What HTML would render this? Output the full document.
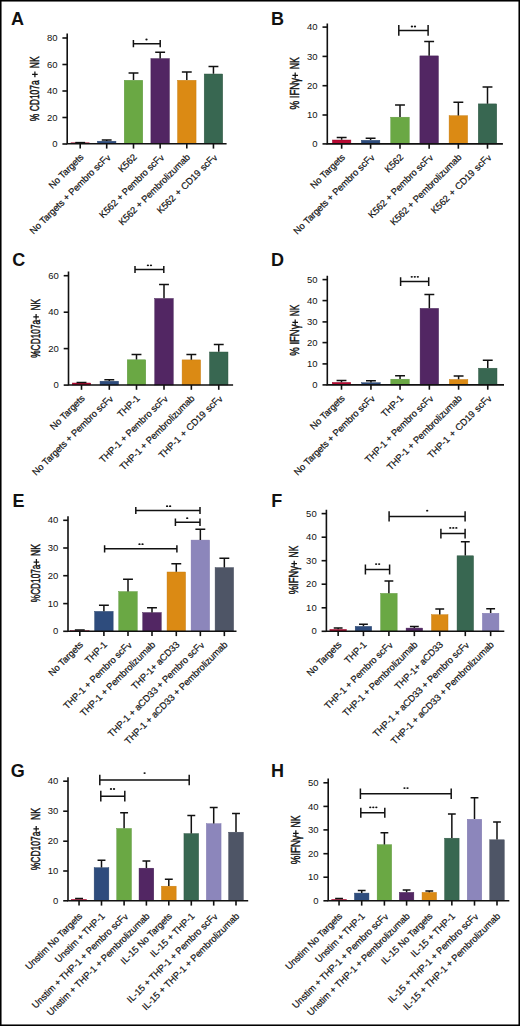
<!DOCTYPE html>
<html><head><meta charset="utf-8"><style>
html,body{margin:0;padding:0;background:#fff;}
svg{display:block;}
text{font-family:"Liberation Sans",sans-serif;fill:#111;}
.let{font-weight:bold;font-size:18px;}
.tk{font-size:9.5px;text-anchor:end;}
.xl{font-size:9.45px;text-anchor:end;letter-spacing:-0.1px;stroke:#111;stroke-width:0.2px;}
.yt{stroke:#111;stroke-width:0.45px;font-size:12.6px;}
.st{font-size:7px;text-anchor:middle;}
.ax{stroke:#111;stroke-width:1.6;fill:none;}
.eb{stroke:#111;stroke-width:1.5;fill:none;}
</style></head><body>
<svg width="520" height="1026" viewBox="0 0 520 1026">
<rect x="0" y="0" width="520" height="1026" fill="#fff"/>
<g><text x="11" y="24.5" class="let">A</text><rect x="70.95" y="142.80" width="18.50" height="1.00" fill="#b80a33" stroke="#950828" stroke-width="0.45"/><rect x="97.45" y="141.20" width="18.50" height="2.60" fill="#2e4c7d" stroke="#25406a" stroke-width="0.45"/><rect x="124.25" y="80.30" width="18.50" height="63.50" fill="#6aa844" stroke="#5a9538" stroke-width="0.45"/><rect x="150.90" y="58.60" width="18.50" height="85.20" fill="#522663" stroke="#421c52" stroke-width="0.45"/><rect x="177.55" y="80.30" width="18.50" height="63.50" fill="#db8a14" stroke="#c67a0c" stroke-width="0.45"/><rect x="204.20" y="74.00" width="18.50" height="69.80" fill="#386751" stroke="#2d5541" stroke-width="0.45"/><path d="M80.20 142.60V142.60M75.26 142.60H85.14" class="eb"/><path d="M106.70 141.00V140.10M101.76 140.10H111.64" class="eb"/><path d="M133.50 80.10V72.90M128.56 72.90H138.44" class="eb"/><path d="M160.15 58.40V52.20M155.21 52.20H165.09" class="eb"/><path d="M186.80 80.10V72.00M181.86 72.00H191.74" class="eb"/><path d="M213.45 73.80V66.50M208.51 66.50H218.39" class="eb"/><path d="M67.2 33.5V143.8H226.6" class="ax"/><path d="M62.40 144H67.2" class="ax"/><text x="57.50" y="147.10" class="tk">0</text><path d="M62.40 117.5H67.2" class="ax"/><text x="57.50" y="120.60" class="tk">20</text><path d="M62.40 91H67.2" class="ax"/><text x="57.50" y="94.10" class="tk">40</text><path d="M62.40 64.5H67.2" class="ax"/><text x="57.50" y="67.60" class="tk">60</text><path d="M62.40 38H67.2" class="ax"/><text x="57.50" y="41.10" class="tk">80</text><path d="M80.20 143.8V148.60" class="ax"/><text transform="translate(84.00 157.80) rotate(-45)" class="xl">No Targets</text><path d="M106.70 143.8V148.60" class="ax"/><text transform="translate(110.50 157.80) rotate(-45)" class="xl">No Targets + Pembro scF<tspan font-size="8.50" dy="1.0">v</tspan></text><path d="M133.50 143.8V148.60" class="ax"/><text transform="translate(137.30 157.80) rotate(-45)" class="xl">K562</text><path d="M160.15 143.8V148.60" class="ax"/><text transform="translate(163.95 157.80) rotate(-45)" class="xl">K562 + Pembro scF<tspan font-size="8.50" dy="1.0">v</tspan></text><path d="M186.80 143.8V148.60" class="ax"/><text transform="translate(190.60 157.80) rotate(-45)" class="xl">K562 + Pembrolizumab</text><path d="M213.45 143.8V148.60" class="ax"/><text transform="translate(217.25 157.80) rotate(-45)" class="xl" word-spacing="0.8">K562 + CD19 scF<tspan font-size="8.50" dy="1.0">v</tspan></text><path d="M133.4 40.05V47.35M133.4 43.7H160.2M160.2 40.05V47.35" class="eb"/><ellipse cx="146.50" cy="39.5" rx="1.15" ry="0.9" fill="#111"/><text transform="translate(38.7 121.20) rotate(-90)" class="yt" textLength="40.90" lengthAdjust="spacingAndGlyphs">% CD107a</text><text transform="translate(38.7 68.20) rotate(-90)" class="yt" textLength="11.80" lengthAdjust="spacingAndGlyphs">NK</text><path d="M32.10 74.45H37.70M34.9 71.55V77.35" stroke="#111" stroke-width="1.25" fill="none"/></g>
<g><text x="271" y="24.5" class="let">B</text><rect x="332.40" y="140.00" width="18.50" height="3.90" fill="#b80a33" stroke="#950828" stroke-width="0.45"/><rect x="361.35" y="140.30" width="18.50" height="3.60" fill="#2e4c7d" stroke="#25406a" stroke-width="0.45"/><rect x="390.75" y="117.20" width="18.50" height="26.70" fill="#6aa844" stroke="#5a9538" stroke-width="0.45"/><rect x="419.90" y="55.90" width="18.50" height="88.00" fill="#522663" stroke="#421c52" stroke-width="0.45"/><rect x="449.10" y="115.70" width="18.50" height="28.20" fill="#db8a14" stroke="#c67a0c" stroke-width="0.45"/><rect x="478.25" y="103.90" width="18.50" height="40.00" fill="#386751" stroke="#2d5541" stroke-width="0.45"/><path d="M341.65 139.80V137.40M336.71 137.40H346.59" class="eb"/><path d="M370.60 140.10V138.30M365.66 138.30H375.54" class="eb"/><path d="M400.00 117.00V105.10M395.06 105.10H404.94" class="eb"/><path d="M429.15 55.70V41.60M424.21 41.60H434.09" class="eb"/><path d="M458.35 115.50V102.30M453.41 102.30H463.29" class="eb"/><path d="M487.50 103.70V87.10M482.56 87.10H492.44" class="eb"/><path d="M327.3 23.4V143.9H502.9" class="ax"/><path d="M322.50 143.9H327.3" class="ax"/><text x="317.60" y="147.00" class="tk">0</text><path d="M322.50 115H327.3" class="ax"/><text x="317.60" y="118.10" class="tk">10</text><path d="M322.50 85.7H327.3" class="ax"/><text x="317.60" y="88.80" class="tk">20</text><path d="M322.50 56.4H327.3" class="ax"/><text x="317.60" y="59.50" class="tk">30</text><path d="M322.50 27.1H327.3" class="ax"/><text x="317.60" y="30.20" class="tk">40</text><path d="M341.65 143.9V148.70" class="ax"/><text transform="translate(345.45 157.90) rotate(-45)" class="xl">No Targets</text><path d="M370.60 143.9V148.70" class="ax"/><text transform="translate(374.40 157.90) rotate(-45)" class="xl">No Targets + Pembro scF<tspan font-size="8.50" dy="1.0">v</tspan></text><path d="M400.00 143.9V148.70" class="ax"/><text transform="translate(403.80 157.90) rotate(-45)" class="xl">K562</text><path d="M429.15 143.9V148.70" class="ax"/><text transform="translate(432.95 157.90) rotate(-45)" class="xl">K562 + Pembro scF<tspan font-size="8.50" dy="1.0">v</tspan></text><path d="M458.35 143.9V148.70" class="ax"/><text transform="translate(462.15 157.90) rotate(-45)" class="xl">K562 + Pembrolizumab</text><path d="M487.50 143.9V148.70" class="ax"/><text transform="translate(491.30 157.90) rotate(-45)" class="xl" word-spacing="0.8">K562 + CD19 scF<tspan font-size="8.50" dy="1.0">v</tspan></text><path d="M398.8 25.00V35.80M398.8 30.4H428.1M428.1 25.00V35.80" class="eb"/><ellipse cx="411.93" cy="26.5" rx="1.15" ry="0.9" fill="#111"/><ellipse cx="414.97" cy="26.5" rx="1.15" ry="0.9" fill="#111"/><text transform="translate(298.5 109.60) rotate(-90)" class="yt" textLength="31.80" lengthAdjust="spacingAndGlyphs">% IFNγ</text><text transform="translate(298.5 69.30) rotate(-90)" class="yt" textLength="12.00" lengthAdjust="spacingAndGlyphs">NK</text><path d="M292.40 75.35H298.00M295.2 72.45V78.25" stroke="#111" stroke-width="1.25" fill="none"/></g>
<g><text x="12.2" y="265.5" class="let">C</text><rect x="72.25" y="383.00" width="18.50" height="2.00" fill="#b80a33" stroke="#950828" stroke-width="0.45"/><rect x="100.05" y="381.20" width="18.50" height="3.80" fill="#2e4c7d" stroke="#25406a" stroke-width="0.45"/><rect x="127.25" y="359.80" width="18.50" height="25.20" fill="#6aa844" stroke="#5a9538" stroke-width="0.45"/><rect x="154.75" y="298.50" width="18.50" height="86.50" fill="#522663" stroke="#421c52" stroke-width="0.45"/><rect x="182.10" y="359.90" width="18.50" height="25.10" fill="#db8a14" stroke="#c67a0c" stroke-width="0.45"/><rect x="209.50" y="352.00" width="18.50" height="33.00" fill="#386751" stroke="#2d5541" stroke-width="0.45"/><path d="M81.50 382.80V382.60M76.56 382.60H86.44" class="eb"/><path d="M109.30 381.00V379.80M104.36 379.80H114.24" class="eb"/><path d="M136.50 359.60V354.60M131.56 354.60H141.44" class="eb"/><path d="M164.00 298.30V284.50M159.06 284.50H168.94" class="eb"/><path d="M191.35 359.70V354.60M186.41 354.60H196.29" class="eb"/><path d="M218.75 351.80V344.50M213.81 344.50H223.69" class="eb"/><path d="M68.5 271.5V385H233.1" class="ax"/><path d="M63.70 385.1H68.5" class="ax"/><text x="58.80" y="388.20" class="tk">0</text><path d="M63.70 348.6H68.5" class="ax"/><text x="58.80" y="351.70" class="tk">20</text><path d="M63.70 312.2H68.5" class="ax"/><text x="58.80" y="315.30" class="tk">40</text><path d="M63.70 275.7H68.5" class="ax"/><text x="58.80" y="278.80" class="tk">60</text><path d="M81.50 385V389.80" class="ax"/><text transform="translate(85.30 399.00) rotate(-45)" class="xl">No Targets</text><path d="M109.30 385V389.80" class="ax"/><text transform="translate(113.10 399.00) rotate(-45)" class="xl">No Targets + Pembro scF<tspan font-size="8.50" dy="1.0">v</tspan></text><path d="M136.50 385V389.80" class="ax"/><text transform="translate(140.30 399.00) rotate(-45)" class="xl">THP-1</text><path d="M164.00 385V389.80" class="ax"/><text transform="translate(167.80 399.00) rotate(-45)" class="xl">THP-1 + Pembro scF<tspan font-size="8.50" dy="1.0">v</tspan></text><path d="M191.35 385V389.80" class="ax"/><text transform="translate(195.15 399.00) rotate(-45)" class="xl">THP-1 + Pembrolizumab</text><path d="M218.75 385V389.80" class="ax"/><text transform="translate(222.55 399.00) rotate(-45)" class="xl" word-spacing="0.8">THP-1 + CD19 scF<tspan font-size="8.50" dy="1.0">v</tspan></text><path d="M135 266.05V272.95M135 269.5H163.8M163.8 266.05V272.95" class="eb"/><ellipse cx="147.92" cy="265.3" rx="1.15" ry="0.9" fill="#111"/><ellipse cx="150.97" cy="265.3" rx="1.15" ry="0.9" fill="#111"/><text transform="translate(39.8 357.80) rotate(-90)" class="yt" textLength="38.00" lengthAdjust="spacingAndGlyphs">%CD107a</text><text transform="translate(39.8 310.40) rotate(-90)" class="yt" textLength="11.50" lengthAdjust="spacingAndGlyphs">NK</text><path d="M33.30 316.95H38.90M36.1 314.05V319.85" stroke="#111" stroke-width="1.25" fill="none"/></g>
<g><text x="271" y="265.5" class="let">D</text><rect x="332.25" y="382.40" width="18.50" height="2.50" fill="#b80a33" stroke="#950828" stroke-width="0.45"/><rect x="361.70" y="382.70" width="18.50" height="2.20" fill="#2e4c7d" stroke="#25406a" stroke-width="0.45"/><rect x="390.80" y="379.20" width="18.50" height="5.70" fill="#6aa844" stroke="#5a9538" stroke-width="0.45"/><rect x="420.10" y="308.40" width="18.50" height="76.50" fill="#522663" stroke="#421c52" stroke-width="0.45"/><rect x="449.35" y="379.50" width="18.50" height="5.40" fill="#db8a14" stroke="#c67a0c" stroke-width="0.45"/><rect x="478.50" y="368.20" width="18.50" height="16.70" fill="#386751" stroke="#2d5541" stroke-width="0.45"/><path d="M341.50 382.20V380.50M336.56 380.50H346.44" class="eb"/><path d="M370.95 382.50V380.70M366.01 380.70H375.89" class="eb"/><path d="M400.05 379.00V375.80M395.11 375.80H404.99" class="eb"/><path d="M429.35 308.20V294.60M424.41 294.60H434.29" class="eb"/><path d="M458.60 379.30V376.10M453.66 376.10H463.54" class="eb"/><path d="M487.75 368.00V360.20M482.81 360.20H492.69" class="eb"/><path d="M327.3 275.7V384.9H504" class="ax"/><path d="M322.50 384.9H327.3" class="ax"/><text x="317.60" y="388.00" class="tk">0</text><path d="M322.50 363.9H327.3" class="ax"/><text x="317.60" y="367.00" class="tk">10</text><path d="M322.50 342.6H327.3" class="ax"/><text x="317.60" y="345.70" class="tk">20</text><path d="M322.50 321.9H327.3" class="ax"/><text x="317.60" y="325.00" class="tk">30</text><path d="M322.50 300.6H327.3" class="ax"/><text x="317.60" y="303.70" class="tk">40</text><path d="M322.50 279.6H327.3" class="ax"/><text x="317.60" y="282.70" class="tk">50</text><path d="M341.50 384.9V389.70" class="ax"/><text transform="translate(345.30 398.90) rotate(-45)" class="xl">No Targets</text><path d="M370.95 384.9V389.70" class="ax"/><text transform="translate(374.75 398.90) rotate(-45)" class="xl">No Targets + Pembro scF<tspan font-size="8.50" dy="1.0">v</tspan></text><path d="M400.05 384.9V389.70" class="ax"/><text transform="translate(403.85 398.90) rotate(-45)" class="xl">THP-1</text><path d="M429.35 384.9V389.70" class="ax"/><text transform="translate(433.15 398.90) rotate(-45)" class="xl">THP-1 + Pembro scF<tspan font-size="8.50" dy="1.0">v</tspan></text><path d="M458.60 384.9V389.70" class="ax"/><text transform="translate(462.40 398.90) rotate(-45)" class="xl">THP-1 + Pembrolizumab</text><path d="M487.75 384.9V389.70" class="ax"/><text transform="translate(491.55 398.90) rotate(-45)" class="xl" word-spacing="0.8">THP-1 + CD19 scF<tspan font-size="8.50" dy="1.0">v</tspan></text><path d="M400.6 277.15V286.05M400.6 281.6H428.7M428.7 277.15V286.05" class="eb"/><ellipse cx="411.75" cy="276.8" rx="1.15" ry="0.9" fill="#111"/><ellipse cx="414.80" cy="276.8" rx="1.15" ry="0.9" fill="#111"/><ellipse cx="417.85" cy="276.8" rx="1.15" ry="0.9" fill="#111"/><text transform="translate(298.8 355.70) rotate(-90)" class="yt" textLength="31.20" lengthAdjust="spacingAndGlyphs">% IFNγ</text><text transform="translate(298.8 316.20) rotate(-90)" class="yt" textLength="11.60" lengthAdjust="spacingAndGlyphs">NK</text><path d="M292.40 322.4H298.00M295.2 319.50V325.30" stroke="#111" stroke-width="1.25" fill="none"/></g>
<g><text x="12.6" y="506.8" class="let">E</text><rect x="70.55" y="630.70" width="18.50" height="0.60" fill="#b80a33" stroke="#950828" stroke-width="0.45"/><rect x="94.65" y="611.40" width="18.50" height="19.90" fill="#2e4c7d" stroke="#25406a" stroke-width="0.45"/><rect x="118.75" y="591.60" width="18.50" height="39.70" fill="#6aa844" stroke="#5a9538" stroke-width="0.45"/><rect x="142.75" y="612.60" width="18.50" height="18.70" fill="#522663" stroke="#421c52" stroke-width="0.45"/><rect x="167.05" y="572.00" width="18.50" height="59.30" fill="#db8a14" stroke="#c67a0c" stroke-width="0.45"/><rect x="191.10" y="540.10" width="18.50" height="91.20" fill="#8c86bb" stroke="#7c74ad" stroke-width="0.45"/><rect x="215.10" y="567.60" width="18.50" height="63.70" fill="#4e5566" stroke="#404758" stroke-width="0.45"/><path d="M79.80 630.50V629.90M74.86 629.90H84.74" class="eb"/><path d="M103.90 611.20V605.20M98.96 605.20H108.84" class="eb"/><path d="M128.00 591.40V579.20M123.06 579.20H132.94" class="eb"/><path d="M152.00 612.40V607.80M147.06 607.80H156.94" class="eb"/><path d="M176.30 571.80V563.70M171.36 563.70H181.24" class="eb"/><path d="M200.35 539.90V529.30M195.41 529.30H205.29" class="eb"/><path d="M224.35 567.40V558.20M219.41 558.20H229.29" class="eb"/><path d="M68 516.2V631.3H236.5" class="ax"/><path d="M63.20 631.3H68" class="ax"/><text x="58.30" y="634.40" class="tk">0</text><path d="M63.20 603.6H68" class="ax"/><text x="58.30" y="606.70" class="tk">10</text><path d="M63.20 575.7H68" class="ax"/><text x="58.30" y="578.80" class="tk">20</text><path d="M63.20 548H68" class="ax"/><text x="58.30" y="551.10" class="tk">30</text><path d="M63.20 520.3H68" class="ax"/><text x="58.30" y="523.40" class="tk">40</text><path d="M79.80 631.3V636.10" class="ax"/><text transform="translate(83.60 645.30) rotate(-45)" class="xl">No Targets</text><path d="M103.90 631.3V636.10" class="ax"/><text transform="translate(107.70 645.30) rotate(-45)" class="xl">THP-1</text><path d="M128.00 631.3V636.10" class="ax"/><text transform="translate(131.80 645.30) rotate(-45)" class="xl">THP-1 + Pembro scF<tspan font-size="8.50" dy="1.0">v</tspan></text><path d="M152.00 631.3V636.10" class="ax"/><text transform="translate(155.80 645.30) rotate(-45)" class="xl">THP-1 + Pembrolizumab</text><path d="M176.30 631.3V636.10" class="ax"/><text transform="translate(180.10 645.30) rotate(-45)" class="xl">THP-1+ aCD33</text><path d="M200.35 631.3V636.10" class="ax"/><text transform="translate(204.15 645.30) rotate(-45)" class="xl">THP-1 + aCD33 + Pembro scF<tspan font-size="8.50" dy="1.0">v</tspan></text><path d="M224.35 631.3V636.10" class="ax"/><text transform="translate(228.15 645.30) rotate(-45)" class="xl">THP-1 + aCD33 + Pembrolizumab</text><path d="M104.6 545.15V552.45M104.6 548.8H176.9M176.9 545.15V552.45" class="eb"/><ellipse cx="139.47" cy="544.2" rx="1.15" ry="0.9" fill="#111"/><ellipse cx="142.53" cy="544.2" rx="1.15" ry="0.9" fill="#111"/><path d="M135.8 507.05V513.95M135.8 510.5H200M200 507.05V513.95" class="eb"/><ellipse cx="167.07" cy="506.2" rx="1.15" ry="0.9" fill="#111"/><ellipse cx="170.12" cy="506.2" rx="1.15" ry="0.9" fill="#111"/><path d="M175.4 518.60V526.00M175.4 522.3H200M200 518.60V526.00" class="eb"/><ellipse cx="187.20" cy="518.2" rx="1.15" ry="0.9" fill="#111"/><text transform="translate(40.2 602.20) rotate(-90)" class="yt" textLength="37.60" lengthAdjust="spacingAndGlyphs">%CD107a</text><text transform="translate(40.2 555.90) rotate(-90)" class="yt" textLength="11.90" lengthAdjust="spacingAndGlyphs">NK</text><path d="M33.60 562.0H39.20M36.4 559.10V564.90" stroke="#111" stroke-width="1.25" fill="none"/></g>
<g><text x="271.2" y="506.8" class="let">F</text><rect x="329.90" y="629.40" width="16.50" height="1.90" fill="#b80a33" stroke="#950828" stroke-width="0.45"/><rect x="355.20" y="626.40" width="16.50" height="4.90" fill="#2e4c7d" stroke="#25406a" stroke-width="0.45"/><rect x="380.65" y="593.40" width="16.50" height="37.90" fill="#6aa844" stroke="#5a9538" stroke-width="0.45"/><rect x="406.10" y="628.10" width="16.50" height="3.20" fill="#522663" stroke="#421c52" stroke-width="0.45"/><rect x="431.50" y="614.70" width="16.50" height="16.60" fill="#db8a14" stroke="#c67a0c" stroke-width="0.45"/><rect x="457.05" y="555.80" width="16.50" height="75.50" fill="#386751" stroke="#2d5541" stroke-width="0.45"/><rect x="482.40" y="613.30" width="16.50" height="18.00" fill="#8c86bb" stroke="#7c74ad" stroke-width="0.45"/><path d="M338.15 629.20V627.90M333.73 627.90H342.57" class="eb"/><path d="M363.45 626.20V624.20M359.03 624.20H367.87" class="eb"/><path d="M388.90 593.20V581.00M384.48 581.00H393.32" class="eb"/><path d="M414.35 627.90V626.50M409.93 626.50H418.77" class="eb"/><path d="M439.75 614.50V608.90M435.33 608.90H444.17" class="eb"/><path d="M465.30 555.60V541.80M460.88 541.80H469.72" class="eb"/><path d="M490.65 613.10V608.70M486.23 608.70H495.07" class="eb"/><path d="M326.4 509.7V631.3H504.3" class="ax"/><path d="M321.60 631.3H326.4" class="ax"/><text x="316.70" y="634.40" class="tk">0</text><path d="M321.60 607.8H326.4" class="ax"/><text x="316.70" y="610.90" class="tk">10</text><path d="M321.60 584.2H326.4" class="ax"/><text x="316.70" y="587.30" class="tk">20</text><path d="M321.60 560.7H326.4" class="ax"/><text x="316.70" y="563.80" class="tk">30</text><path d="M321.60 537.2H326.4" class="ax"/><text x="316.70" y="540.30" class="tk">40</text><path d="M321.60 513.6H326.4" class="ax"/><text x="316.70" y="516.70" class="tk">50</text><path d="M338.15 631.3V636.10" class="ax"/><text transform="translate(341.95 645.30) rotate(-45)" class="xl">No Targets</text><path d="M363.45 631.3V636.10" class="ax"/><text transform="translate(367.25 645.30) rotate(-45)" class="xl">THP-1</text><path d="M388.90 631.3V636.10" class="ax"/><text transform="translate(392.70 645.30) rotate(-45)" class="xl">THP-1 + Pembro scF<tspan font-size="8.50" dy="1.0">v</tspan></text><path d="M414.35 631.3V636.10" class="ax"/><text transform="translate(418.15 645.30) rotate(-45)" class="xl">THP-1 + Pembrolizumab</text><path d="M439.75 631.3V636.10" class="ax"/><text transform="translate(443.55 645.30) rotate(-45)" class="xl">THP-1+ aCD33</text><path d="M465.30 631.3V636.10" class="ax"/><text transform="translate(469.10 645.30) rotate(-45)" class="xl">THP-1 + aCD33 + Pembro scF<tspan font-size="8.50" dy="1.0">v</tspan></text><path d="M490.65 631.3V636.10" class="ax"/><text transform="translate(494.45 645.30) rotate(-45)" class="xl">THP-1 + aCD33 + Pembrolizumab</text><path d="M365.4 564.50V574.50M365.4 569.5H389.6M389.6 564.50V574.50" class="eb"/><ellipse cx="376.12" cy="564.1" rx="1.15" ry="0.9" fill="#111"/><ellipse cx="379.17" cy="564.1" rx="1.15" ry="0.9" fill="#111"/><path d="M389.1 511.20V521.60M389.1 516.4H465.1M465.1 511.20V521.60" class="eb"/><ellipse cx="427.20" cy="510.7" rx="1.15" ry="0.9" fill="#111"/><path d="M440.9 528.70V538.50M440.9 533.6H465.1M465.1 528.70V538.50" class="eb"/><ellipse cx="450.25" cy="527.9" rx="1.15" ry="0.9" fill="#111"/><ellipse cx="453.30" cy="527.9" rx="1.15" ry="0.9" fill="#111"/><ellipse cx="456.35" cy="527.9" rx="1.15" ry="0.9" fill="#111"/><text transform="translate(298.0 594.30) rotate(-90)" class="yt" textLength="28.40" lengthAdjust="spacingAndGlyphs">%IFNγ</text><text transform="translate(298.0 557.40) rotate(-90)" class="yt" textLength="11.70" lengthAdjust="spacingAndGlyphs">NK</text><path d="M291.40 563.7H297.00M294.2 560.80V566.60" stroke="#111" stroke-width="1.25" fill="none"/></g>
<g><text x="10.8" y="776.8" class="let">G</text><rect x="71.70" y="899.40" width="14.70" height="1.40" fill="#b80a33" stroke="#950828" stroke-width="0.45"/><rect x="94.15" y="867.70" width="14.70" height="33.10" fill="#2e4c7d" stroke="#25406a" stroke-width="0.45"/><rect x="116.75" y="828.50" width="14.70" height="72.30" fill="#6aa844" stroke="#5a9538" stroke-width="0.45"/><rect x="139.05" y="868.20" width="14.70" height="32.60" fill="#522663" stroke="#421c52" stroke-width="0.45"/><rect x="161.45" y="886.20" width="14.70" height="14.60" fill="#db8a14" stroke="#c67a0c" stroke-width="0.45"/><rect x="183.95" y="833.60" width="14.70" height="67.20" fill="#386751" stroke="#2d5541" stroke-width="0.45"/><rect x="206.35" y="823.70" width="14.70" height="77.10" fill="#8c86bb" stroke="#7c74ad" stroke-width="0.45"/><rect x="228.65" y="832.20" width="14.70" height="68.60" fill="#4e5566" stroke="#404758" stroke-width="0.45"/><path d="M79.05 899.20V898.50M75.10 898.50H83.00" class="eb"/><path d="M101.50 867.50V860.20M97.55 860.20H105.45" class="eb"/><path d="M124.10 828.30V812.80M120.15 812.80H128.05" class="eb"/><path d="M146.40 868.00V860.90M142.45 860.90H150.35" class="eb"/><path d="M168.80 886.00V879.30M164.85 879.30H172.75" class="eb"/><path d="M191.30 833.40V815.60M187.35 815.60H195.25" class="eb"/><path d="M213.70 823.50V807.50M209.75 807.50H217.65" class="eb"/><path d="M236.00 832.00V813.50M232.05 813.50H239.95" class="eb"/><path d="M68 777.3V900.8H248.2" class="ax"/><path d="M63.20 900.8H68" class="ax"/><text x="58.30" y="903.90" class="tk">0</text><path d="M63.20 871H68" class="ax"/><text x="58.30" y="874.10" class="tk">10</text><path d="M63.20 841.2H68" class="ax"/><text x="58.30" y="844.30" class="tk">20</text><path d="M63.20 811.2H68" class="ax"/><text x="58.30" y="814.30" class="tk">30</text><path d="M63.20 781.2H68" class="ax"/><text x="58.30" y="784.30" class="tk">40</text><path d="M79.05 900.8V905.60" class="ax"/><text transform="translate(82.85 916.80) rotate(-45)" class="xl">Unstim No Targets</text><path d="M101.50 900.8V905.60" class="ax"/><text transform="translate(105.30 916.80) rotate(-45)" class="xl">Unstim + THP-1</text><path d="M124.10 900.8V905.60" class="ax"/><text transform="translate(127.90 916.80) rotate(-45)" class="xl">Unstim + THP-1 + Pembro scF<tspan font-size="8.50" dy="1.0">v</tspan></text><path d="M146.40 900.8V905.60" class="ax"/><text transform="translate(150.20 916.80) rotate(-45)" class="xl">Unstim + THP-1 + Pembrolizumab</text><path d="M168.80 900.8V905.60" class="ax"/><text transform="translate(172.60 916.80) rotate(-45)" class="xl">IL-15 No Targets</text><path d="M191.30 900.8V905.60" class="ax"/><text transform="translate(195.10 916.80) rotate(-45)" class="xl">IL-15 + THP-1</text><path d="M213.70 900.8V905.60" class="ax"/><text transform="translate(217.50 916.80) rotate(-45)" class="xl">IL-15 + THP-1 + Pembro scF<tspan font-size="8.50" dy="1.0">v</tspan></text><path d="M236.00 900.8V905.60" class="ax"/><text transform="translate(239.80 916.80) rotate(-45)" class="xl">IL-15 + THP-1 + Pembrolizumab</text><path d="M100.8 790.80V801.60M100.8 796.2H124.8M124.8 790.80V801.60" class="eb"/><ellipse cx="110.97" cy="789" rx="1.15" ry="0.9" fill="#111"/><ellipse cx="114.03" cy="789" rx="1.15" ry="0.9" fill="#111"/><path d="M99.8 774.70V785.30M99.8 780H189.2M189.2 774.70V785.30" class="eb"/><ellipse cx="144.60" cy="773.1" rx="1.15" ry="0.9" fill="#111"/><text transform="translate(40.2 870.20) rotate(-90)" class="yt" textLength="38.60" lengthAdjust="spacingAndGlyphs">%CD107a</text><text transform="translate(40.2 820.10) rotate(-90)" class="yt" textLength="12.10" lengthAdjust="spacingAndGlyphs">NK</text><path d="M33.40 828.9H39.00M36.2 826.00V831.80" stroke="#111" stroke-width="1.25" fill="none"/></g>
<g><text x="271" y="776.8" class="let">H</text><rect x="331.80" y="899.40" width="14.50" height="1.40" fill="#b80a33" stroke="#950828" stroke-width="0.45"/><rect x="354.45" y="893.10" width="14.50" height="7.70" fill="#2e4c7d" stroke="#25406a" stroke-width="0.45"/><rect x="377.15" y="844.70" width="14.50" height="56.10" fill="#6aa844" stroke="#5a9538" stroke-width="0.45"/><rect x="399.35" y="892.40" width="14.50" height="8.40" fill="#522663" stroke="#421c52" stroke-width="0.45"/><rect x="422.05" y="892.40" width="14.50" height="8.40" fill="#db8a14" stroke="#c67a0c" stroke-width="0.45"/><rect x="444.60" y="838.20" width="14.50" height="62.60" fill="#386751" stroke="#2d5541" stroke-width="0.45"/><rect x="467.25" y="819.30" width="14.50" height="81.50" fill="#8c86bb" stroke="#7c74ad" stroke-width="0.45"/><rect x="489.75" y="839.80" width="14.50" height="61.00" fill="#4e5566" stroke="#404758" stroke-width="0.45"/><path d="M339.05 899.20V898.50M335.15 898.50H342.95" class="eb"/><path d="M361.70 892.90V890.60M357.80 890.60H365.60" class="eb"/><path d="M384.40 844.50V832.70M380.50 832.70H388.30" class="eb"/><path d="M406.60 892.20V889.90M402.70 889.90H410.50" class="eb"/><path d="M429.30 892.20V890.90M425.40 890.90H433.20" class="eb"/><path d="M451.85 838.00V814.00M447.95 814.00H455.75" class="eb"/><path d="M474.50 819.10V797.80M470.60 797.80H478.40" class="eb"/><path d="M497.00 839.60V821.90M493.10 821.90H500.90" class="eb"/><path d="M328.2 778.5V900.8H509.3" class="ax"/><path d="M323.40 900.8H328.2" class="ax"/><text x="318.50" y="903.90" class="tk">0</text><path d="M323.40 877.2H328.2" class="ax"/><text x="318.50" y="880.30" class="tk">10</text><path d="M323.40 853.7H328.2" class="ax"/><text x="318.50" y="856.80" class="tk">20</text><path d="M323.40 829.9H328.2" class="ax"/><text x="318.50" y="833.00" class="tk">30</text><path d="M323.40 806.4H328.2" class="ax"/><text x="318.50" y="809.50" class="tk">40</text><path d="M323.40 782.8H328.2" class="ax"/><text x="318.50" y="785.90" class="tk">50</text><path d="M339.05 900.8V905.60" class="ax"/><text transform="translate(342.85 916.80) rotate(-45)" class="xl">Unstim No Targets</text><path d="M361.70 900.8V905.60" class="ax"/><text transform="translate(365.50 916.80) rotate(-45)" class="xl">Unstim + THP-1</text><path d="M384.40 900.8V905.60" class="ax"/><text transform="translate(388.20 916.80) rotate(-45)" class="xl">Unstim + THP-1 + Pembro scF<tspan font-size="8.50" dy="1.0">v</tspan></text><path d="M406.60 900.8V905.60" class="ax"/><text transform="translate(410.40 916.80) rotate(-45)" class="xl">Unstim + THP-1 + Pembrolizumab</text><path d="M429.30 900.8V905.60" class="ax"/><text transform="translate(433.10 916.80) rotate(-45)" class="xl">IL-15 No Targets</text><path d="M451.85 900.8V905.60" class="ax"/><text transform="translate(455.65 916.80) rotate(-45)" class="xl">IL-15 + THP-1</text><path d="M474.50 900.8V905.60" class="ax"/><text transform="translate(478.30 916.80) rotate(-45)" class="xl">IL-15 + THP-1 + Pembro scF<tspan font-size="8.50" dy="1.0">v</tspan></text><path d="M497.00 900.8V905.60" class="ax"/><text transform="translate(500.80 916.80) rotate(-45)" class="xl">IL-15 + THP-1 + Pembrolizumab</text><path d="M360.8 807.70V817.70M360.8 812.7H384.8M384.8 807.70V817.70" class="eb"/><ellipse cx="370.25" cy="807.3" rx="1.15" ry="0.9" fill="#111"/><ellipse cx="373.30" cy="807.3" rx="1.15" ry="0.9" fill="#111"/><ellipse cx="376.35" cy="807.3" rx="1.15" ry="0.9" fill="#111"/><path d="M360.4 788.55V799.05M360.4 793.8H451.2M451.2 788.55V799.05" class="eb"/><ellipse cx="404.48" cy="788.1" rx="1.15" ry="0.9" fill="#111"/><ellipse cx="407.52" cy="788.1" rx="1.15" ry="0.9" fill="#111"/><text transform="translate(299.8 864.30) rotate(-90)" class="yt" textLength="29.00" lengthAdjust="spacingAndGlyphs">%IFNγ</text><text transform="translate(299.8 827.40) rotate(-90)" class="yt" textLength="12.00" lengthAdjust="spacingAndGlyphs">NK</text><path d="M293.05 833.25H298.65M295.85 830.35V836.15" stroke="#111" stroke-width="1.25" fill="none"/></g>
<rect x="0.75" y="0.75" width="518.5" height="1024.5" fill="none" stroke="#000" stroke-width="1.6"/>
</svg>
</body></html>
